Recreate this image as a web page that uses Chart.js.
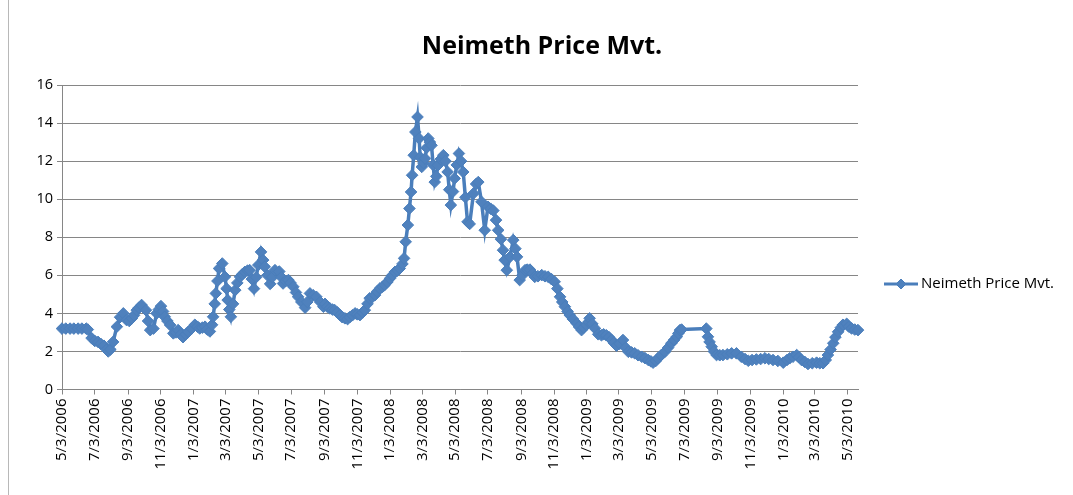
<!DOCTYPE html>
<html>
<head>
<meta charset="utf-8">
<title>Neimeth Price Mvt.</title>
<script src="https://cdn.jsdelivr.net/npm/chart.js@4.4.0/dist/chart.umd.min.js"></script>
<style>
  html, body { margin: 0; padding: 0; background: #fff; }
  #wrap { width: 1073px; height: 495px; }
</style>
</head>
<body>
<div id="wrap"><canvas id="grafico" width="1073" height="495"></canvas></div>
<script>
/* grafico de preco - datas em numero serial do Excel */

const TITULO = "Neimeth Price Mvt.";
const SERIE = "Neimeth Price Mvt.";

const datas = [
  38840, 38847, 38855, 38862, 38870, 38877, 38885, 38888, 38895, 38901,
  38907, 38912, 38918, 38923, 38926, 38930, 38935, 38942, 38948, 38954,
  38960, 38965, 38970, 38974, 38979, 38983, 38988, 38996, 39000, 39004,
  39010, 39016, 39020, 39024, 39028, 39031, 39036, 39041, 39047, 39052,
  39056, 39061, 39065, 39070, 39075, 39081, 39087, 39092, 39096, 39101,
  39106, 39110, 39115, 39119, 39121, 39124, 39126, 39129, 39132, 39138,
  39143, 39146, 39148, 39151, 39154, 39158, 39162, 39166, 39171, 39175,
  39180, 39185, 39189, 39193, 39197, 39201, 39205, 39210, 39214, 39217,
  39222, 39227, 39231, 39236, 39244, 39248, 39251, 39256, 39261, 39265,
  39270, 39275, 39279, 39285, 39292, 39296, 39301, 39307, 39313, 39320,
  39326, 39329, 39333, 39338, 39343, 39347, 39352, 39357, 39361, 39366,
  39371, 39375, 39380, 39385, 39389, 39394, 39399, 39403, 39408, 39412,
  39417, 39422, 39426, 39431, 39436, 39440, 39445, 39450, 39454, 39459,
  39464, 39468, 39473, 39476, 39479, 39483, 39486, 39489, 39491, 39494,
  39497, 39501, 39504, 39506, 39509, 39512, 39515, 39518, 39521, 39524,
  39527, 39530, 39533, 39536, 39539, 39544, 39549, 39553, 39557, 39560,
  39563, 39567, 39570, 39574, 39578, 39582, 39586, 39590, 39594, 39598,
  39605, 39610, 39614, 39620, 39626, 39632, 39637, 39642, 39647, 39651,
  39656, 39660, 39663, 39667, 39673, 39679, 39683, 39686, 39691, 39696,
  39701, 39705, 39710, 39715, 39719, 39725, 39732, 39738, 39744, 39750,
  39756, 39761, 39766, 39770, 39775, 39780, 39784, 39790, 39797, 39801,
  39806, 39810, 39815, 39819, 39821, 39826, 39831, 39837, 39843, 39847,
  39852, 39857, 39862, 39866, 39871, 39877, 39883, 39888, 39893, 39899,
  39905, 39911, 39918, 39924, 39930, 39935, 39939, 39944, 39948, 39954,
  39961, 39967, 39973, 39978, 39983, 39986, 39989, 39992, 40038, 40041,
  40044, 40048, 40052, 40057, 40063, 40069, 40077, 40085, 40094, 40103,
  40110, 40116, 40123, 40131, 40139, 40147, 40154, 40162, 40171, 40181,
  40188, 40193, 40199, 40206, 40210, 40215, 40221, 40227, 40235, 40243,
  40249, 40255, 40260, 40264, 40269, 40274, 40278, 40283, 40288, 40292,
  40299, 40303, 40308, 40314, 40320
];

const precos = [
  3.2, 3.2, 3.2, 3.2, 3.2, 3.2, 3.2, 3.15, 2.7, 2.55,
  2.5, 2.4, 2.3, 2.1, 2.0, 2.1, 2.5, 3.3, 3.8, 4.0,
  3.65, 3.6, 3.74, 3.9, 4.17, 4.3, 4.44, 4.17, 3.6, 3.12,
  3.2, 4.0, 4.2, 4.38, 4.1, 3.82, 3.6, 3.39, 2.95, 3.0,
  3.12, 2.9, 2.75, 2.9, 3.03, 3.2, 3.4, 3.3, 3.21, 3.25,
  3.3, 3.15, 3.05, 3.4, 3.82, 4.5, 5.05, 5.7, 6.36, 6.62,
  5.92, 5.3, 4.7, 4.2, 3.82, 4.5, 5.22, 5.6, 5.92, 6.05,
  6.18, 6.25, 6.27, 5.8, 5.3, 5.9, 6.54, 7.23, 6.8, 6.45,
  6.0, 5.55, 5.9, 6.27, 6.2, 5.9, 5.57, 5.7, 5.75, 5.6,
  5.4, 5.1, 4.87, 4.6, 4.3, 4.6, 5.05, 4.95, 4.87, 4.6,
  4.35, 4.5, 4.35, 4.26, 4.2, 4.17, 4.05, 3.91, 3.8, 3.74,
  3.7, 3.8, 3.9, 4.0, 3.95, 3.91, 4.05, 4.17, 4.5, 4.79,
  4.85, 4.96, 5.15, 5.31, 5.4, 5.49, 5.65, 5.84, 6.0, 6.18,
  6.25, 6.36, 6.6, 6.89, 7.76, 8.64, 9.51, 10.38, 11.26, 12.31,
  13.53, 14.32, 13.19, 12.2, 11.7, 11.9, 12.14, 12.7, 13.19, 13.0,
  12.83, 11.8, 10.9, 11.2, 11.78, 12.1, 12.31, 12.0, 11.43, 10.5,
  9.69, 10.4, 11.09, 11.8, 12.4, 12.0, 11.43, 10.1, 8.81, 8.7,
  10.3, 10.8, 10.9, 9.86, 8.37, 9.6, 9.5, 9.4, 8.9, 8.37,
  7.9, 7.32, 6.8, 6.27, 6.97, 7.85, 7.4, 6.97, 5.75, 6.0,
  6.27, 6.3, 6.3, 6.1, 5.92, 5.95, 6.01, 5.95, 5.92, 5.8,
  5.66, 5.3, 4.87, 4.6, 4.35, 4.1, 3.91, 3.7, 3.47, 3.3,
  3.12, 3.25, 3.39, 3.55, 3.74, 3.45, 3.21, 2.9, 2.85, 2.9,
  2.85, 2.75, 2.6, 2.45, 2.3, 2.4, 2.6, 2.2, 1.98, 1.95,
  1.9, 1.8, 1.72, 1.65, 1.55, 1.48, 1.41, 1.5, 1.64, 1.8,
  1.98, 2.2, 2.43, 2.6, 2.77, 2.95, 3.12, 3.15, 3.2, 2.77,
  2.5, 2.25, 2.0, 1.81, 1.8, 1.81, 1.85, 1.9, 1.9, 1.72,
  1.6, 1.51, 1.55, 1.58, 1.6, 1.64, 1.6, 1.55, 1.5, 1.41,
  1.55, 1.64, 1.72, 1.81, 1.7, 1.55, 1.45, 1.34, 1.38, 1.41,
  1.38, 1.38, 1.55, 1.81, 2.1, 2.43, 2.75, 3.03, 3.25, 3.4,
  3.45, 3.3, 3.21, 3.15, 3.12
];

const rotulosX = [
  "5/3/2006", "7/3/2006", "9/3/2006", "11/3/2006", "1/3/2007", "3/3/2007",
  "5/3/2007", "7/3/2007", "9/3/2007", "11/3/2007", "1/3/2008", "3/3/2008",
  "5/3/2008", "7/3/2008", "9/3/2008", "11/3/2008", "1/3/2009", "3/3/2009",
  "5/3/2009", "7/3/2009", "9/3/2009", "11/3/2009", "1/3/2010", "3/3/2010",
  "5/3/2010"
];

const Y_MIN = 0;
const Y_MAX = 16;
const Y_PASSO = 2;

(function () {
  const CINZA = "#868686";
  const AZUL_LINHA = "#4a7ebb";
  const AZUL_PONTO = "#4f81bd";
  const FONTE = "'Open Sans', 'Liberation Sans', sans-serif";

  // "m/d/aaaa" -> serial do Excel
  function serial(txt) {
    const [m, d, a] = txt.split("/").map(Number);
    return Math.round((Date.UTC(a, m - 1, d) - Date.UTC(1899, 11, 30)) / 86400000);
  }

  const pontos = datas.map((d, i) => ({ x: d, y: precos[i] }));

  const decoracao = {
    id: "decoracao",
    beforeDraw(chart) {
      const ctx = chart.ctx;
      ctx.save();
      ctx.strokeStyle = "#b8b8b8";
      ctx.lineWidth = 1;
      ctx.beginPath();
      ctx.moveTo(8.5, 0);
      ctx.lineTo(8.5, chart.height);
      ctx.stroke();
      ctx.restore();
    },
    afterDraw(chart) {
      const ctx = chart.ctx;
      ctx.save();
      // titulo
      ctx.fillStyle = "#000";
      ctx.font = "bold 25px " + FONTE;
      ctx.textAlign = "center";
      ctx.textBaseline = "middle";
      ctx.fillText(TITULO, 542, 47);

      // legenda
      const ly = 284;
      ctx.strokeStyle = AZUL_LINHA;
      ctx.lineWidth = 3;
      ctx.beginPath();
      ctx.moveTo(884, ly);
      ctx.lineTo(918, ly);
      ctx.stroke();
      ctx.fillStyle = AZUL_PONTO;
      ctx.strokeStyle = AZUL_LINHA;
      ctx.lineWidth = 1;
      Chart.helpers.drawPoint(ctx, { pointStyle: "rectRot", radius: 5, borderWidth: 1 }, 901, ly);
      ctx.fillStyle = "#000";
      ctx.font = "15px " + FONTE;
      ctx.textAlign = "left";
      ctx.fillText(SERIE, 921, ly);
      ctx.restore();
    }
  };

  new Chart(document.getElementById("grafico"), {
    type: "line",
    data: {
      datasets: [{
        label: SERIE,
        data: pontos,
        borderColor: AZUL_LINHA,
        borderWidth: 3.5,
        backgroundColor: AZUL_PONTO,
        pointStyle: "rectRot",
        pointRadius: 5.8,
        pointBorderColor: AZUL_LINHA,
        pointBorderWidth: 1,
        pointBackgroundColor: AZUL_PONTO,
        tension: 0,
        clip: false
      }]
    },
    options: {
      responsive: false,
      animation: false,
      devicePixelRatio: 1,
      layout: { padding: { top: 85, right: 215, bottom: 0, left: 0 } },
      plugins: {
        legend: { display: false },
        title: { display: false },
        tooltip: { enabled: false }
      },
      scales: {
        x: {
          type: "linear",
          min: serial("5/3/2006"),
          max: 40320,
          afterBuildTicks: (s) => { s.ticks = rotulosX.map(r => ({ value: serial(r) })); },
          afterFit: (s) => { s.height = 105.5; },
          ticks: {
            autoSkip: false,
            minRotation: 90,
            maxRotation: 90,
            padding: 4,
            color: "#000",
            font: { family: FONTE, size: 15 },
            callback: (v, i) => rotulosX[i]
          },
          grid: { drawOnChartArea: false, drawTicks: true, tickLength: 5, color: CINZA },
          border: { color: CINZA, width: 1 }
        },
        y: {
          min: Y_MIN,
          max: Y_MAX,
          afterFit: (s) => { s.width = 62; },
          ticks: {
            stepSize: Y_PASSO,
            padding: 4,
            color: "#000",
            font: { family: FONTE, size: 14.5 }
          },
          grid: { color: CINZA, tickLength: 5 },
          border: { color: CINZA, width: 1 }
        }
      }
    },
    plugins: [decoracao]
  });
})();
</script>
</body>
</html>
